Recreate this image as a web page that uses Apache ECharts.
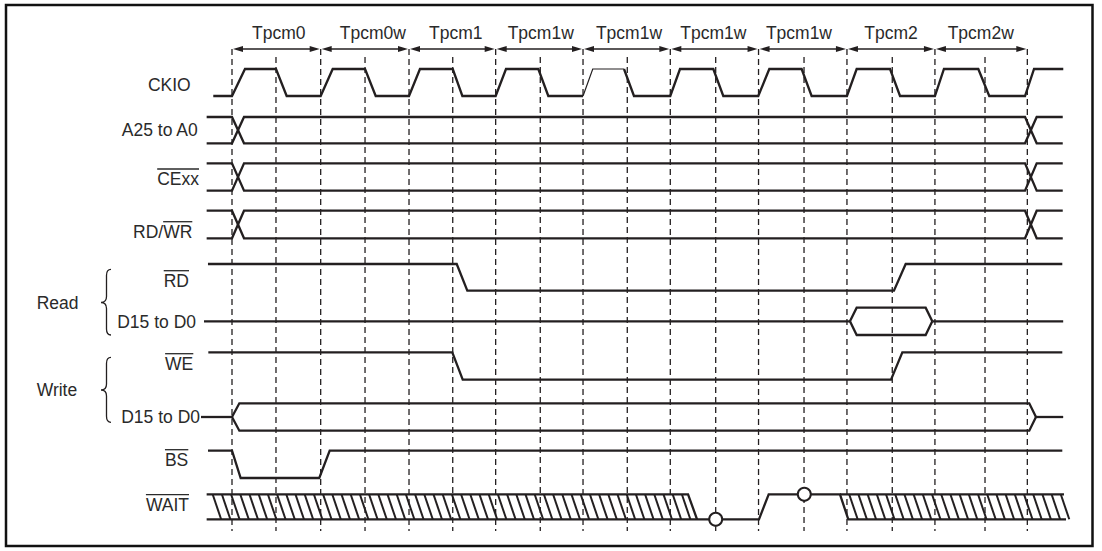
<!DOCTYPE html>
<html><head><meta charset="utf-8">
<script src="https://cdn.jsdelivr.net/npm/echarts@6/dist/echarts.min.js"></script>
<style>html,body{margin:0;padding:0;background:#fff}#c{width:1102px;height:551px}</style>
</head><body><div id="c"></div>
<script>
// ================= DATA (time in bus cycles, level 1 = high, 0 = low, 0.5 = mid) =================
const cycleLabels = ['Tpcm0','Tpcm0w','Tpcm1','Tpcm1w','Tpcm1w','Tpcm1w','Tpcm1w','Tpcm2','Tpcm2w'];
const cycleBounds = [0, 1.004, 2.004, 2.985, 3.974, 4.962, 5.961, 6.962, 7.958, 9.004];
const cycleMids   = [0.498, 1.506, 2.499, 3.490, 4.475, 5.476, 6.476, 7.475, 8.525];
const signalNames = ['CKIO','A25 to A0','CExx','RD/WR','RD','D15 to D0','WE','D15 to D0','BS','WAIT'];
const overlinedPart = ['', '', 'CExx', 'WR', 'RD', '', 'WE', '', 'BS', 'WAIT'];
const groupNames = ['Read','Write'];

const ckio = [[-0.212,0],
  [0.000,0],[0.147,1],[0.498,1],[0.619,0],
  [1.004,0],[1.140,1],[1.506,1],[1.627,0],
  [2.004,0],[2.128,1],[2.499,1],[2.608,0],
  [2.985,0],[3.102,1],[3.468,1],[3.581,0],
  [3.974,0],[4.084,1],[4.438,1],[4.551,0],
  [4.962,0],[5.072,1],[5.449,1],[5.562,0],
  [5.958,0],[6.083,1],[6.449,1],[6.562,0],
  [6.962,0],[7.072,1],[7.450,1],[7.563,0],
  [7.958,0],[8.060,1],[8.449,1],[8.573,0],
  [8.978,0],[9.080,1],[9.411,1]];
const addrBus = [
  [[-0.287,1],[0,1],[0.136,0],[8.978,0],[9.11,1],[9.405,1]],
  [[-0.287,0],[0,0],[0.136,1],[8.978,1],[9.11,0],[9.405,0]]];
const ceBus = [
  [[-0.287,1],[0,1],[0.136,0],[8.978,0],[9.11,1],[9.405,1]],
  [[-0.287,0],[0,0],[0.136,1],[8.978,1],[9.11,0],[9.405,0]]];
const rdwrBus = [
  [[-0.287,1],[0,1],[0.136,0],[8.978,0],[9.11,1],[9.405,1]],
  [[-0.287,0],[0,0],[0.136,1],[8.978,1],[9.11,0],[9.405,0]]];
const rdLine = [[-0.272,1],[2.544,1],[2.664,0],[7.494,0],[7.627,1],[9.400,1]];
const readData = [
  [[-0.317,0.5],[6.996,0.5]],
  [[6.996,0.5],[7.072,1],[7.853,1],[7.928,0.5]],
  [[6.996,0.5],[7.072,0],[7.853,0],[7.928,0.5]],
  [[7.928,0.5],[9.410,0.5]]];
const weLine = [[-0.268,1],[2.494,1],[2.612,0],[7.461,0],[7.589,1],[9.400,1]];
const writeData = [
  [[-0.351,0.5],[0,0.5]],
  [[0,0.5],[0.083,1],[9.026,1],[9.102,0.5]],
  [[0,0.5],[0.083,0],[9.026,0],[9.102,0.5]],
  [[9.102,0.5],[9.410,0.5]]];
const bsLine = [[-0.272,1],[0,1],[0.098,0],[0.988,0],[1.106,1],[9.400,1]];
const waitLines = [
  [[-0.287,0],[5.966,0],[6.076,1],[6.883,1],[6.977,0],[9.442,0]],
  [[-0.287,1],[5.163,1],[5.265,0]],
  [[6.883,1],[9.419,1]]];
const waitHatch = [[-0.287,5.163],[6.883,9.419]];
const waitCircles = [[5.476,0],[6.479,1]];

// ================= LAYOUT / STYLE =================
const W = 1102, H = 551, X0 = 232, CYC = 88.33;
const INK = '#231f20', TXT = '#2a2a2a';
const FS = 17.5, FAM = '"Liberation Sans", Arial, Helvetica, sans-serif';
const FONT = FS + 'px ' + FAM;
const laneHigh = [69, 117, 163.3, 210.7, 264, 307.7, 352.3, 403.3, 450.7, 494.3];
const laneLow  = [96, 143.3, 190.7, 238.3, 290.7, 335, 379.7, 430.7, 478, 519.3];
const labelRight = [190.7, 197.7, 199, 192.3, 189, 196, 193.3, 200, 188.3, 189];
const labelMidY  = [84.5, 130.3, 179.3, 232, 281, 321.7, 364, 417, 460, 505];
const cycleNudge = [2.4, 8, 3.4, 1.4, 2.3, -1.1, -3.8, 0, -0.4];
const LW = 2.3;

function lvl(lane, v) { return laneLow[lane] + (laneHigh[lane] - laneLow[lane]) * v; }

const mctx = document.createElement('canvas').getContext('2d');
mctx.font = FONT;
function tw(s) { return mctx.measureText(s).width; }

function polyEl(api, lane, pts, w) {
  return { type: 'polyline',
    shape: { points: pts.map(p => api.coord([p[0], lvl(lane, p[1])])) },
    style: { stroke: INK, lineWidth: w, fill: 'none', lineJoin: 'miter' } };
}

function waveSeries(lane, lines, extra) {
  return { type: 'custom', coordinateSystem: 'cartesian2d', data: [[0, 0]], silent: true, z: 3,
    renderItem: function (params, api) {
      let children = lines.map(pl => polyEl(api, lane, pl, LW));
      if (extra) children = children.concat(extra(api));
      return { type: 'group', children: children };
    } };
}

// CKIO split into thick / thin pieces (one pulse is drawn with a thin stroke in the original)
const THIN_T = [3.97, 4.44];
function ckioSeries() {
  return { type: 'custom', coordinateSystem: 'cartesian2d', data: [[0, 0]], silent: true, z: 3,
    renderItem: function (params, api) {
      const children = [];
      let cur = [ckio[0]], curThin = null;
      for (let i = 0; i < ckio.length - 1; i++) {
        const a = ckio[i], b = ckio[i + 1];
        const thin = a[0] >= THIN_T[0] && b[0] <= THIN_T[1];
        if (curThin === null) curThin = thin;
        if (thin !== curThin) {
          children.push(polyEl(api, 0, cur, curThin ? 1.2 : LW));
          cur = [a]; curThin = thin;
        }
        cur.push(b);
      }
      children.push(polyEl(api, 0, cur, curThin ? 1.2 : LW));
      return { type: 'group', children: children };
    } };
}

function waitExtra(api) {
  const els = [];
  const top = laneHigh[9], bot = laneLow[9];
  const slant = 8.5, step = 9.2;
  waitHatch.forEach((r, idx) => {
    const xs = api.coord([r[0], top])[0], xe = api.coord([r[1], top])[0];
    let x = idx === 0 ? xs + 6 : xs + step;
    while (x < xe - 3) {
      els.push({ type: 'line', shape: { x1: x, y1: top, x2: x + slant, y2: bot },
        style: { stroke: INK, lineWidth: 2 } });
      x += step;
    }
  });
  waitCircles.forEach(c => {
    const p = api.coord([c[0], lvl(9, c[1])]);
    els.push({ type: 'circle', z2: 10, shape: { cx: p[0], cy: p[1], r: 6.5 },
      style: { fill: '#fff', stroke: INK, lineWidth: 2 } });
  });
  return els;
}

const guideSeries = { type: 'custom', coordinateSystem: 'cartesian2d', data: [[0, 0]], silent: true, z: 1,
  renderItem: function (params, api) {
    const ch = [];
    const dash = { stroke: INK, lineWidth: 1.3, lineDash: [6, 4] };
    cycleBounds.forEach(t => {
      const a = api.coord([t, 49]), b = api.coord([t, 531]);
      ch.push({ type: 'line', shape: { x1: a[0], y1: a[1], x2: b[0], y2: b[1] }, style: dash });
    });
    cycleMids.forEach(t => {
      const a = api.coord([t, 57]), b = api.coord([t, 531]);
      ch.push({ type: 'line', shape: { x1: a[0], y1: a[1], x2: b[0], y2: b[1] }, style: dash });
    });
    for (let k = 0; k < cycleLabels.length; k++) {
      const x1 = api.coord([cycleBounds[k], 49])[0] + 1, x2 = api.coord([cycleBounds[k + 1], 49])[0] - 1;
      const y = api.coord([0, 49])[1];
      const hl = 10, hw = 3;
      ch.push({ type: 'line', shape: { x1: x1 + 4, y1: y, x2: x2 - 4, y2: y }, style: { stroke: INK, lineWidth: 1.3 } });
      ch.push({ type: 'polygon', shape: { points: [[x1, y], [x1 + hl, y - hw], [x1 + hl, y + hw]] }, style: { fill: INK, stroke: 'none' } });
      ch.push({ type: 'polygon', shape: { points: [[x2, y], [x2 - hl, y - hw], [x2 - hl, y + hw]] }, style: { fill: INK, stroke: 'none' } });
      const cx = (x1 + x2) / 2 + cycleNudge[k];
      ch.push({ type: 'text', x: cx, y: api.coord([0, 33.3])[1],
        style: { text: cycleLabels[k], font: FONT, fill: TXT, align: 'center', textAlign: 'center', verticalAlign: 'middle', textVerticalAlign: 'middle' } });
    }
    return { type: 'group', children: ch };
  } };

// braces (annotation) drawn in a custom series, pixel layout
function bracePath(top, tip, bot) {
  const x1 = 111, xm = 106.5, x0 = 101, r = 6;
  return `M${x1} ${top} Q${xm} ${top} ${xm} ${top + r} L${xm} ${tip - r} Q${xm} ${tip} ${x0} ${tip} ` +
         `Q${xm} ${tip} ${xm} ${tip + r} L${xm} ${bot - r} Q${xm} ${bot} ${x1} ${bot}`;
}
const braceSpans = [[269.3, 302.5, 335], [357.3, 390, 422.3]];
const braceSeries = { type: 'custom', coordinateSystem: 'cartesian2d', data: [[0, 0]], silent: true, z: 2,
  renderItem: function () {
    return { type: 'group', children: braceSpans.map(b => ({ type: 'path',
      shape: { pathData: bracePath(b[0], b[1], b[2]) },
      style: { fill: 'none', stroke: INK, lineWidth: 1.3 } })) };
  } };

// ---------- left-side labels, frame ----------
const graphics = [];
graphics.push({ type: 'rect', shape: { x: 6, y: 5, width: 1086.5, height: 541 },
  style: { fill: 'none', stroke: '#111', lineWidth: 2.5 }, z: 0 });
signalNames.forEach((name, i) => {
  graphics.push({ type: 'text', x: labelRight[i], y: labelMidY[i],
    style: { text: name, font: FONT, fill: TXT, align: 'right', verticalAlign: 'middle' } });
  if (overlinedPart[i]) {
    const w = tw(overlinedPart[i]);
    const oy = labelMidY[i] - 10.3;
    graphics.push({ type: 'line', shape: { x1: labelRight[i] - w, y1: oy, x2: labelRight[i], y2: oy },
      style: { stroke: TXT, lineWidth: 1.3 } });
  }
});
const groupY = [302.5, 390];
groupNames.forEach((g, i) => {
  graphics.push({ type: 'text', x: 36.7, y: groupY[i],
    style: { text: g, font: FONT, fill: TXT, align: 'left', verticalAlign: 'middle' } });
});

const chart = echarts.init(document.getElementById('c'), null, { renderer: 'svg', width: W, height: H });
chart.setOption({
  animation: false,
  backgroundColor: '#fff',
  grid: { left: 0, right: 0, top: 0, bottom: 0 },
  xAxis: { type: 'value', min: -X0 / CYC, max: (W - X0) / CYC, show: false },
  yAxis: { type: 'value', min: 0, max: H, inverse: true, show: false },
  graphic: graphics,
  series: [
    guideSeries,
    braceSeries,
    ckioSeries(),
    waveSeries(1, addrBus),
    waveSeries(2, ceBus),
    waveSeries(3, rdwrBus),
    waveSeries(4, [rdLine]),
    waveSeries(5, readData),
    waveSeries(6, [weLine]),
    waveSeries(7, writeData),
    waveSeries(8, [bsLine]),
    waveSeries(9, waitLines, waitExtra)
  ]
});
</script></body></html>
